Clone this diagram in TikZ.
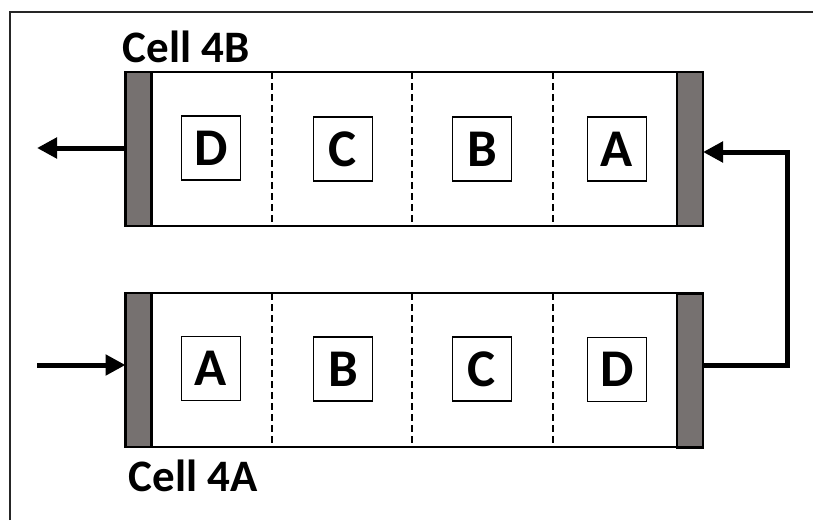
\documentclass[tikz,border=0pt]{standalone}
\usepackage{fontspec}
\setmainfont{Carlito}
\usetikzlibrary{arrows.meta}
\definecolor{bargray}{RGB}{118,113,112}
\begin{document}
\begin{tikzpicture}[x=1pt,y=-1pt,
  cellbox/.style={draw=black,line width=2.5pt,fill=white,minimum width=578pt,minimum height=154pt,inner sep=0pt,outer sep=0pt},
  endbar/.style={draw=black,line width=2.5pt,fill=bargray,minimum width=26pt,minimum height=154pt,inner sep=0pt,outer sep=0pt},
  letterbox/.style={draw=black,line width=1.8pt,fill=white,minimum width=59pt,minimum height=64pt,inner sep=0pt,font=\fontsize{53}{53}\selectfont\bfseries},
  celllabel/.style={inner sep=0pt,font=\fontsize{45}{45}\selectfont\bfseries},
  divider/.style={line width=2.6pt,dash pattern=on 7pt off 4pt},
  flow/.style={line width=5pt,-{Triangle[length=20pt,width=20pt]}},
  frame/.style={line width=2.5pt,draw=black!85}]
\useasboundingbox (0,0) rectangle (813,520);
% frame
\draw[frame] (10,520) -- (10,12) -- (813,12);
% top cell (4B)
\node[cellbox] (cellB) at (414,149) {};
\draw[divider] (272,72) -- (272,226);
\draw[divider] (412,72) -- (412,226);
\draw[divider] (553,72) -- (553,226);
\node[endbar] (barBL) at (138.5,149) {};
\node[endbar] (barBR) at (690,149) {};
\node[letterbox] (bD) at (211,148) {D};
\node[letterbox] (bC) at (343,149) {C};
\node[letterbox] (bB) at (482,149) {B};
\node[letterbox] (bA) at (617,149) {A};
\node[celllabel] (labB) at (186,47) {Cell 4B};
% bottom cell (4A)
\node[cellbox] (cellA) at (414,370) {};
\draw[divider] (272,293) -- (272,447);
\draw[divider] (412,293) -- (412,447);
\draw[divider] (553,293) -- (553,447);
\node[endbar] (barAL) at (138.5,370) {};
\node[endbar] (barAR) at (690,370.5) {};
\node[letterbox] (aA) at (211,368.5) {A};
\node[letterbox] (aB) at (343,369) {B};
\node[letterbox] (aC) at (482,369) {C};
\node[letterbox] (aD) at (617,369.5) {D};
\node[celllabel] (labA) at (193,476) {Cell 4A};
% connectors
\coordinate (outB) at (37,148);
\coordinate (inA) at (37,365);
\coordinate (r1) at (787,365);
\coordinate (r2) at (787,152);
\draw[flow] (outB -| barBL.west) -- (outB);
\draw[flow] (inA) -- (inA -| barAL.west);
\draw[flow] (r1 -| barAR.east) -- (r1) -- (r2) -- (r2 -| barBR.east);
\end{tikzpicture}
\end{document}
